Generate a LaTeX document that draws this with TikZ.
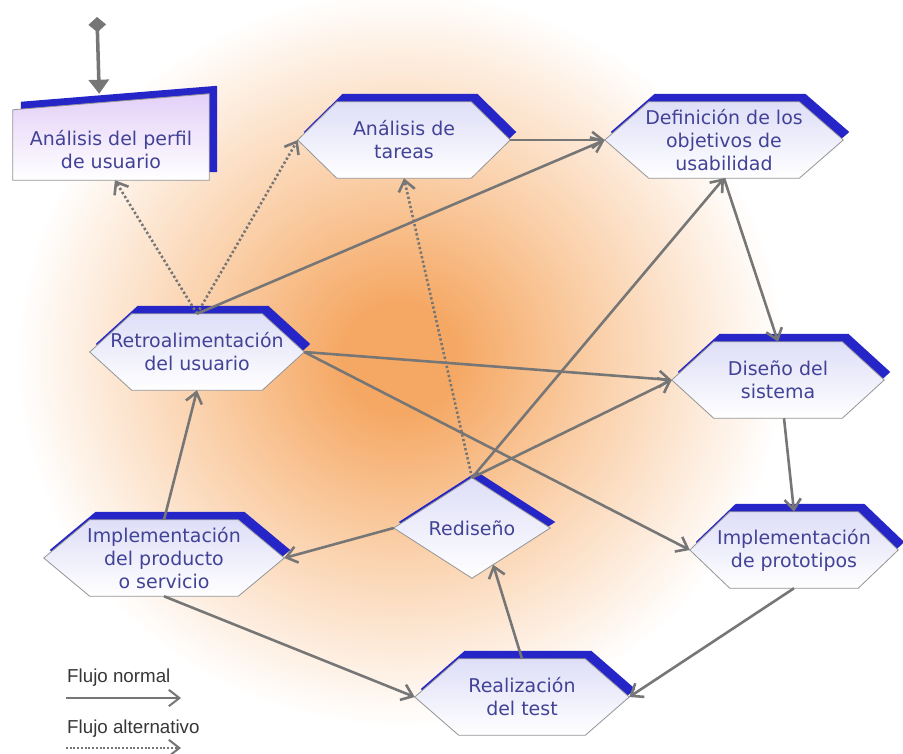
\documentclass[tikz,border=0pt]{standalone}
\usepackage{fontspec}
\usetikzlibrary{arrows.meta,calc}
\newfontfamily\boxfont{DejaVu Sans}
\newfontfamily\legendfont{Liberation Sans}

\definecolor{textblue}{RGB}{66,66,150}
\definecolor{shadowblue}{RGB}{38,38,200}
\definecolor{edgegray}{RGB}{150,150,150}
\definecolor{linegray}{RGB}{118,118,118}
\definecolor{hextop}{RGB}{222,222,248}
\definecolor{boxtop}{RGB}{228,208,248}
\definecolor{legendgray}{RGB}{55,55,55}
\definecolor{glowcore}{RGB}{245,168,100}
\definecolor{glowmid}{RGB}{250,206,166}

% warm radial glow behind the diagram (path box maps to +-25bp)
\pgfdeclareradialshading{warmglow}{\pgfpoint{0bp}{0bp}}{%
  color(0bp)=(glowcore); color(3bp)=(glowcore); color(10bp)=(glowmid);
  color(20bp)=(white); color(50bp)=(white)}

\pgfdeclarelayer{under}
\pgfsetlayers{under,main}

% hexagon with blue offset shadow, built on the anchors of a node
\newcommand\hexshape[2]{%
  \fill[shadowblue, transform canvas={shift={(6,-8)}}]
    (#1.west) -- ($(#1.north west)+(#2,0)$) -- ($(#1.north east)+(-#2,0)$)
    -- (#1.east) -- ($(#1.south east)+(-#2,0)$) -- ($(#1.south west)+(#2,0)$) -- cycle;
  \shade[hexfill]
    (#1.west) -- ($(#1.north west)+(#2,0)$) -- ($(#1.north east)+(-#2,0)$)
    -- (#1.east) -- ($(#1.south east)+(-#2,0)$) -- ($(#1.south west)+(#2,0)$) -- cycle;
}

\begin{document}
\begin{tikzpicture}[x=0.03cm,y=-0.03cm,
  hexnode/.style={minimum height=64.9pt, inner sep=0pt, align=center,
    font=\boxfont\fontsize{16.2pt}{19.6pt}\selectfont, text=textblue},
  hexfill/.style={top color=hextop, bottom color=white, draw=edgegray, line width=0.7pt},
  boxfill/.style={top color=boxtop, bottom color=white, draw=edgegray, line width=0.7pt},
  conn/.style={draw=linegray, line width=2.2pt, -{Straight Barb[length=9pt,width=14pt]}},
  altconn/.style={conn, dash pattern=on 2pt off 2pt},
  startarrow/.style={draw=linegray, line width=3pt,
    {Diamond[length=13pt,width=15pt]}-{Triangle[length=12pt,width=17pt]}},
  legtext/.style={font=\legendfont\fontsize{16pt}{19pt}\selectfont, text=legendgray, inner sep=0pt},
  legconn/.style={draw=linegray, line width=1.7pt, -{Straight Barb[length=9pt,width=14pt]}},
  legalt/.style={legconn, dash pattern=on 1.6pt off 1.6pt}]

\useasboundingbox (0,0) rectangle (903,753);

% process steps
\node[minimum width=167.3pt, minimum height=73.4pt, inner sep=0pt] (perfilbox) at (111,137) {};
\node[hexnode] (perfil) at (111,150) {Análisis del perfil\\de usuario};
\node[hexnode, minimum width=181pt] (tareas) at (404,140) {Análisis de\\tareas};
\node[hexnode, minimum width=203.2pt] (objetivos) at (724,140) {Definición de los\\objetivos de\\usabilidad};
\node[hexnode, minimum width=182.7pt] (retro) at (197,352) {Retroalimentación\\del usuario};
\node[hexnode, minimum width=181pt] (diseno) at (778,380) {Diseño del\\sistema};
\node[hexnode, minimum width=204.9pt] (producto) at (164,558) {Implementación\\del producto\\o servicio};
\node[hexnode, minimum width=177.5pt] (prototipos) at (794,550) {Implementación\\de prototipos};
\node[hexnode, minimum width=133.2pt, minimum height=85.4pt] (rediseno) at (472,528) {Rediseño};
\node[hexnode, minimum width=182.7pt] (test) at (522,697) {Realización\\del test};

% legend
\node[legtext, anchor=base west] (legnormal) at (67,682) {Flujo normal};
\node[legtext, anchor=base west] (legalt) at (67,733) {Flujo alternativo};

\begin{pgfonlayer}{under}
  \shade[shading=warmglow] (400,358) ellipse [x radius=480, y radius=460];
  % user profile box with slanted top
  \fill[shadowblue, transform canvas={shift={(8,-8)}}]
    (perfilbox.south west) -- ($(perfilbox.north west)+(0,16)$)
    -- (perfilbox.north east) -- (perfilbox.south east) -- cycle;
  \shade[boxfill]
    (perfilbox.south west) -- ($(perfilbox.north west)+(0,16)$)
    -- (perfilbox.north east) -- (perfilbox.south east) -- cycle;
  \hexshape{tareas}{39}
  \hexshape{objetivos}{44}
  \hexshape{retro}{42}
  \hexshape{diseno}{42}
  \hexshape{producto}{46}
  \hexshape{prototipos}{40}
  \hexshape{test}{44}
  % redesign diamond
  \fill[shadowblue, transform canvas={shift={(5,-6)}}]
    (rediseno.north) -- (rediseno.east) -- (rediseno.south) -- (rediseno.west) -- cycle;
  \shade[hexfill]
    (rediseno.north) -- (rediseno.east) -- (rediseno.south) -- (rediseno.west) -- cycle;
\end{pgfonlayer}

% entry point
\coordinate (entry) at (97,17);
\draw[startarrow] (entry) -- ($(perfilbox.north west)!0.44!(perfilbox.north east)$);

% flows
\draw[altconn] (retro.north) -- ($(perfilbox.south west)!0.52!(perfilbox.south east)$);
\draw[altconn] (retro.north) -- (tareas.west);
\draw[conn] (retro.north) -- (objetivos.west);
\draw[conn] (tareas.east) -- (objetivos.west);
\draw[altconn] (rediseno.north) -- (tareas.south);
\draw[conn] (rediseno.north) -- (objetivos.south);
\draw[conn] (rediseno.north) -- (diseno.west);
\draw[conn] (objetivos.south) -- (diseno.north);
\draw[conn] (retro.east) -- (diseno.west);
\draw[conn] (retro.east) -- (prototipos.west);
\draw[conn] ($(diseno.south)+(6,0)$) -- (prototipos.north);
\draw[conn] (prototipos.south) -- (test.east);
\draw[conn] (producto.south) -- (test.west);
\draw[conn] (test.north) -- ($(rediseno.south)!0.27!(rediseno.east)$);
\draw[conn] (rediseno.west) -- (producto.east);
\draw[conn] (producto.north) -- (retro.south);

% legend arrows
\coordinate (ln1) at (66,698);
\coordinate (ln2) at (181,698);
\draw[legconn] (ln1) -- (ln2);
\coordinate (la1) at (66,748);
\coordinate (la2) at (181,748);
\draw[legalt] (la1) -- (la2);
\end{tikzpicture}
\end{document}
